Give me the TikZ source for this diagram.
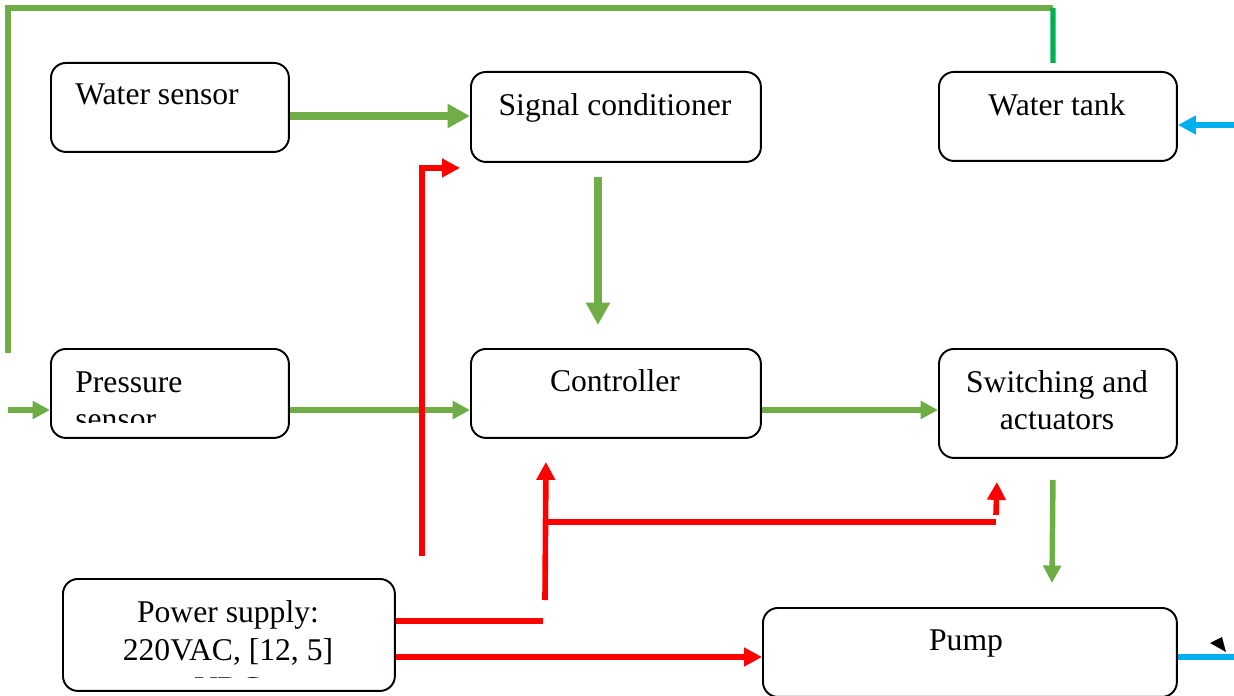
\documentclass[tikz,border=0pt]{standalone}
\usepackage{fontspec}
\setmainfont{Liberation Serif}
\usetikzlibrary{arrows.meta}
\definecolor{leafgreen}{RGB}{112,173,71}
\definecolor{darkgreen}{RGB}{0,176,80}
\definecolor{skyblue}{RGB}{0,176,240}
\tikzset{block/.style={draw, line width=1.1pt, rounded corners=0.3cm, anchor=north west, inner sep=0pt},
  txt/.style={font=\fontsize{18}{21}\selectfont, anchor=base, inner sep=0pt},
  signal/.style={leafgreen, line width=3.1pt, -{Triangle[length=0.35cm,width=0.35cm]}},
  bigsignal/.style={leafgreen, line width=4.2pt, -{Triangle[length=0.45cm,width=0.46cm]}},
  power/.style={red, line width=3.2pt, -{Triangle[length=0.36cm,width=0.36cm]}},
  flow/.style={skyblue, line width=3pt}
}

\begin{document}
\begin{tikzpicture}[x=0.02cm, y=-0.02cm]
      \useasboundingbox (0,0) rectangle (1234,696);
      % blocks
      \node[block, minimum width=4.76cm, minimum height=1.78cm] (ws) at (50,62) {};
      \node[block, minimum width=5.8cm, minimum height=1.8cm] (sc) at (470,71) {};
      \node[block, minimum width=4.76cm, minimum height=1.78cm] (wt) at (938,71) {};
      \node[block, minimum width=4.76cm, minimum height=1.78cm] (ps) at (50,348) {};
      \node[block, minimum width=5.8cm, minimum height=1.78cm] (ctl) at (470,348) {};
      \node[block, minimum width=4.76cm, minimum height=2.18cm] (sw) at (938,348) {};
      \node[block, minimum width=6.64cm, minimum height=2.24cm] (pwr) at (62,578) {};
      \node[block, minimum width=8.28cm, minimum height=1.78cm] (pump) at (762,607) {};
      % texts
      \node[txt, anchor=base west] (wstext) at (75,105) {Water sensor};
      \node[txt] (sctext) at (615,115) {Signal conditioner};
      \node[txt] (wttext) at (1057,115) {Water tank};
      \node[txt] (ctltext) at (615,391) {Controller};
      \node[txt] (swtext) at (1057,392) {Switching and};
      \node[txt] (swtextb) at (1057,429) {actuators};
      \node[txt] (pumptext) at (966,650) {Pump};
      \begin{scope}
        \clip (50,348) rectangle (288,422);
        \node[txt, anchor=base west] (pstext) at (75,392) {Pressure};
        \node[txt, anchor=base west] (pstextb) at (75,429) {sensor};
      \end{scope}
      \begin{scope}
        \clip (62,578) rectangle (394,677);
        \node[txt] (pwrtext) at (228,622) {Power supply:};
        \node[txt] (pwrtextb) at (228,660) {220VAC, [12, 5]};
        \node[txt] (pwrtextc) at (228,698) {VDC};
      \end{scope}
      % green signal paths
      \coordinate (loopA) at (8,353);
      \coordinate (loopB) at (8,8);
      \coordinate (loopC) at (1053,8);
      \coordinate (psin) at (8,410);
      \coordinate (pumpin) at (1052,583);
      \draw[leafgreen, line width=3.3pt] (loopA) -- (loopB) -- (loopC);
      \draw[darkgreen, line width=3pt] (loopC) -- ([shift={(-5,-8)}]wt.north);
      \draw[signal] (psin) -- (ps.west |- psin);
      \draw[bigsignal] (ws.east |- 0,116) -- (sc.west |- 0,116);
      \draw[bigsignal] ([shift={(-18,14)}]sc.south) -- ([shift={(-18,-23)}]ctl.north);
      \draw[signal] (ps.east |- 0,410) -- (ctl.west |- 0,410);
      \draw[signal] (ctl.east |- 0,410) -- (sw.west |- 0,410);
      \draw[signal] ([shift={(-5,21)}]sw.south) -- (pumpin);
      % red power paths
      \coordinate (rA) at (422,556);
      \coordinate (rB) at (545,600);
      \coordinate (rC) at (545,522);
      \coordinate (rD) at (996,522);
      \coordinate (rE) at (996,515);
      \draw[power] (rA) |- ([shift={(-10,51)}]sc.west);
      \draw[red, line width=3.2pt] (pwr.east |- 0,621) -- (543,621);
      \draw[power] (rB) -- ([shift={(-70,23)}]ctl.south);
      \draw[red, line width=3.2pt] (rC) -- (rD);
      \draw[power] (rE) -- ([shift={(-61,23)}]sw.south);
      \draw[power] (pwr.east |- 0,657) -- (pump.west |- 0,657);
      % water flow
      \coordinate (wtin) at (1234,125);
      \coordinate (pumpout) at (1234,657);
      \draw[flow, -{Triangle[length=0.36cm,width=0.36cm]}] (wtin) -- (wt.east |- wtin);
      \draw[flow] (pump.east |- pumpout) -- (pumpout);
      \fill (1210,643) -- (1222,637) -- (1226,652) -- cycle;
\end{tikzpicture}
\end{document}
